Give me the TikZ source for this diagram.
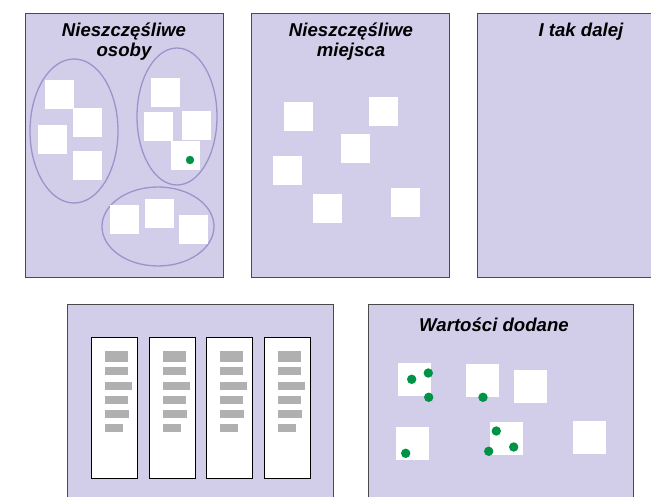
\documentclass[tikz,border=0pt]{standalone}
\usepackage{fontspec}
\setmainfont{Liberation Sans}
\definecolor{panelfill}{HTML}{D2CEEA}
\definecolor{panelline}{HTML}{4A4A4A}
\definecolor{ellline}{HTML}{9B94CA}
\definecolor{dotgreen}{HTML}{009245}
\definecolor{bargray}{HTML}{B0B0B0}
\begin{document}
\begin{tikzpicture}[x=1pt,y=-1pt,
  panel/.style={draw=panelline,fill=panelfill,line width=1pt},
  sq/.style={fill=white,draw=none,minimum size=29pt,inner sep=0pt,outer sep=0pt},
  bigsq/.style={fill=white,draw=none,minimum size=33pt,inner sep=0pt,outer sep=0pt},
  grp/.style={draw=ellline,line width=1.3pt},
  dot/.style={fill=dotgreen,draw=none},
  col/.style={draw=black,fill=white,line width=0.8pt},
  bar/.style={fill=bargray,draw=none},
  ttl/.style={font=\fontsize{18.6}{20}\selectfont\bfseries\itshape,align=center,inner sep=0pt}]
\clip (0,0) rectangle (651,497);
\fill[white] (0,0) rectangle (651,497);
% panels
\draw[panel] (25,14) rectangle (223,278);
\draw[panel] (251,14) rectangle (449,278);
\draw[panel] (477,14) rectangle (690,278);
\draw[panel] (67,305) rectangle (333,510);
\draw[panel] (368,305) rectangle (633,510);
% titles (base anchor = last line's baseline)
\node[ttl,anchor=base] (t1) at (124,57) {Nieszczęśliwe\\osoby};
\node[ttl,anchor=base] (t2) at (351,57) {Nieszczęśliwe\\miejsca};
\node[ttl,anchor=base] (t3) at (581,37) {I tak dalej};
\node[ttl,anchor=base] (t5) at (494,331) {Wartości dodane};
% panel 1 groups
\draw[grp] (74,131) ellipse [x radius=44, y radius=72];
\draw[grp] (177,116.5) ellipse [x radius=40, y radius=68.5];
\draw[grp] (158,226.5) ellipse [x radius=56, y radius=39.5];
\node[sq] (a1) at (59.5,94.5) {};
\node[sq] (a2) at (87.5,123) {};
\node[sq] (a3) at (52.5,139.5) {};
\node[sq] (a4) at (87.5,166) {};
\node[sq] (a5) at (165.5,93) {};
\node[sq] (a6) at (158.5,126.5) {};
\node[sq] (a7) at (196.5,126) {};
\node[sq] (a8) at (185.5,156) {};
\fill[dot] (190,160) circle (4.2);
\node[sq] (a9) at (124.5,219.5) {};
\node[sq] (a10) at (159.5,214) {};
\node[sq] (a11) at (193.5,229.5) {};
% panel 2
\node[sq] (b1) at (298.5,117) {};
\node[sq] (b2) at (383.5,112) {};
\node[sq] (b3) at (355.5,149) {};
\node[sq] (b4) at (287.5,171) {};
\node[sq] (b5) at (327.5,209) {};
\node[sq] (b6) at (405.5,203) {};
% panel 4 columns
\foreach \i/\x in {1/91,2/149,3/206,4/264}{
  \draw[col] (\x,337) rectangle (\x+46,478);
  \fill[bar] (\x+14,351) rectangle (\x+37,362);
  \fill[bar] (\x+14,367) rectangle (\x+37,375);
  \fill[bar] (\x+14,382) rectangle (\x+41,390);
  \fill[bar] (\x+14,396) rectangle (\x+37,404);
  \fill[bar] (\x+14,410) rectangle (\x+38,418);
  \fill[bar] (\x+14,424) rectangle (\x+32,432);
}
% panel 5
\node[bigsq] (c1) at (414.5,379.5) {};
\node[bigsq] (c2) at (482.5,380.5) {};
\node[bigsq] (c3) at (530.5,386.5) {};
\node[bigsq] (c4) at (412.5,443.5) {};
\node[bigsq] (c5) at (506.5,438.5) {};
\node[bigsq] (c6) at (589.5,437.5) {};
\fill[dot] (411.7,379.3) circle (4.7);
\fill[dot] (428.3,373) circle (4.7);
\fill[dot] (428.7,397.3) circle (4.7);
\fill[dot] (483,397.3) circle (4.7);
\fill[dot] (405.7,453.3) circle (4.7);
\fill[dot] (496.3,431) circle (4.7);
\fill[dot] (513.7,447) circle (4.7);
\fill[dot] (488.7,451.3) circle (4.7);
\end{tikzpicture}
\end{document}
